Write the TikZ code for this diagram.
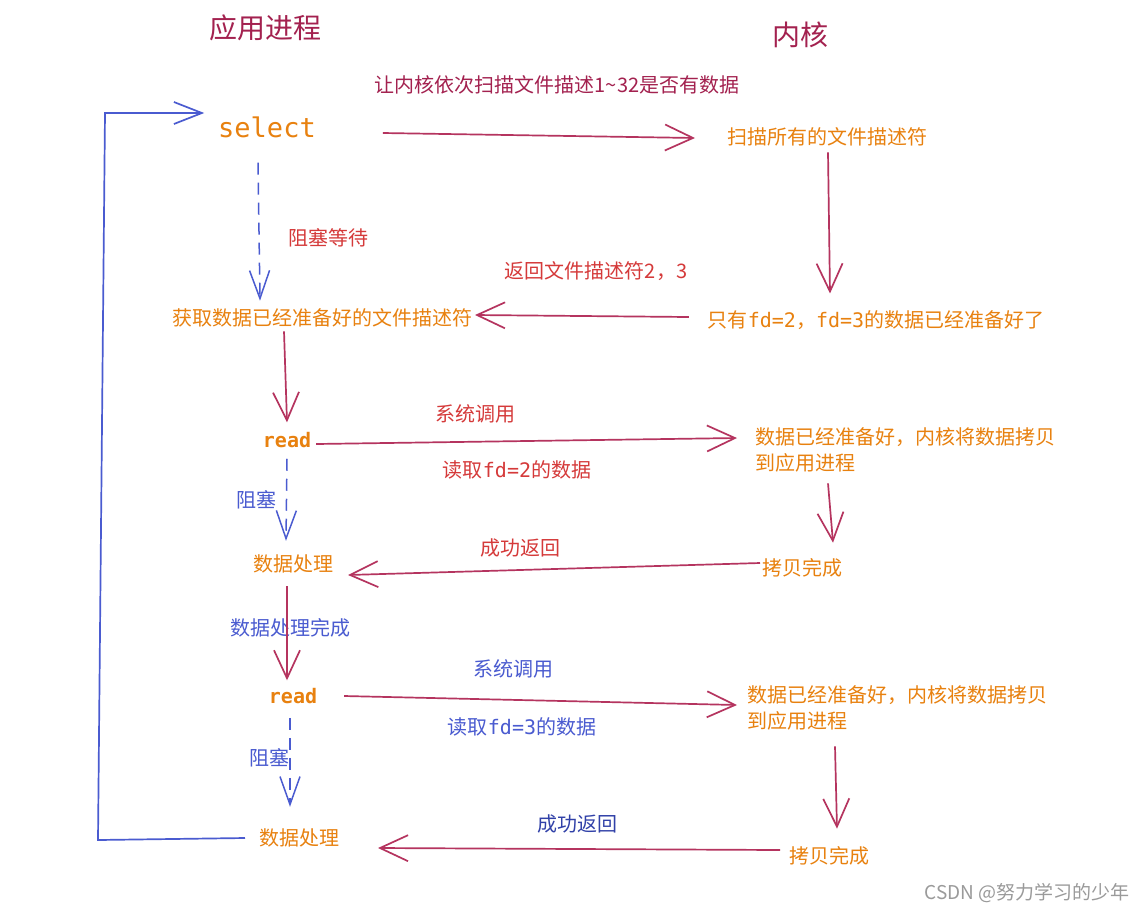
\documentclass[tikz,border=0pt]{standalone}
\usepackage{fontspec}
\setmainfont{Noto Sans CJK SC}
\setmonofont{DejaVu Sans Mono}
\usetikzlibrary{arrows.meta,calc}
\definecolor{titlec}{HTML}{A3214F}
\definecolor{arrc}{HTML}{B5345F}
\definecolor{orc}{HTML}{E8810F}
\definecolor{redc}{HTML}{D53A3A}
\definecolor{bluec}{HTML}{4A5BD0}
\definecolor{dbluec}{HTML}{3141A8}
\definecolor{grayc}{HTML}{9A9A9A}
\begin{document}
\begin{tikzpicture}[x=1pt,y=-1pt,
  every node/.style={inner sep=0pt,outer sep=0pt},
  title/.style={text=titlec,font=\fontsize{28}{32}\selectfont},
  box/.style={text=orc,font=\fontsize{20}{26}\selectfont},
  code/.style={text=orc,font=\ttfamily\bfseries\fontsize{20}{24}\selectfont},
  redlab/.style={text=redc,font=\fontsize{20}{24}\selectfont},
  bluelab/.style={text=bluec,font=\fontsize{20}{24}\selectfont},
  flow/.style={draw=arrc,line width=1.7pt,-{Straight Barb[length=28pt,width=26pt,line width=1.7pt]}},
  wait/.style={draw=bluec,line width=1.5pt,dash pattern=on 12pt off 8pt,-{Straight Barb[length=28pt,width=20pt,line width=1.5pt]}},
  loopc/.style={draw=bluec,line width=1.7pt,-{Straight Barb[length=28pt,width=22pt,line width=1.7pt]}}]
\useasboundingbox (0,0) rectangle (1148,914);
\fill[white] (0,0) rectangle (1148,914);

% titles
\node[title] (tapp) at (265,28) {应用进程};
\node[title] (tker) at (800,35) {内核};

% process nodes
\node[code,font=\ttfamily\fontsize{27}{30}\selectfont] (sel) at (267,127) {select};
\node[box] (scan) at (827,137) {扫描所有的文件描述符};
\node[box] (ready) at (876,320) {只有{\ttfamily fd=2}，{\ttfamily fd=3}的数据已经准备好了};
\node[box] (get) at (322,318) {获取数据已经准备好的文件描述符};
\node[code] (read1) at (287,440) {read};
\node[box,anchor=west,align=left] (copy1) at (755,450) {数据已经准备好，内核将数据拷贝\\到应用进程};
\node[box] (done1) at (802,568) {拷贝完成};
\node[box] (proc1) at (293,564) {数据处理};
\node[code] (read2) at (293,696) {read};
\node[box,anchor=west,align=left] (copy2) at (747,708) {数据已经准备好，内核将数据拷贝\\到应用进程};
\node[box] (done2) at (829,856) {拷贝完成};
\node[box] (proc2) at (299,838) {数据处理};

% labels
\node[text=titlec,font=\fontsize{20}{24}\selectfont] (lscan) at (557,85) {让内核依次扫描文件描述1\textasciitilde32是否有数据};
\node[redlab] (lwait) at (328,238) {阻塞等待};
\node[redlab] (lret) at (596,271) {返回文件描述符2，3};
\node[redlab] (lsys1) at (475,414) {系统调用};
\node[redlab] (lrd1) at (517,470) {读取{\ttfamily fd=2}的数据};
\node[redlab] (lok1) at (520,548) {成功返回};
\node[bluelab] (lblk1) at (256,500) {阻塞};
\node[bluelab] (ldone) at (290,628) {数据处理完成};
\node[bluelab] (lsys2) at (513,669) {系统调用};
\node[bluelab] (lrd2) at (522,727) {读取{\ttfamily fd=3}的数据};
\node[bluelab] (lblk2) at (269,758) {阻塞};
\node[text=dbluec,font=\fontsize{20}{24}\selectfont] (lok2) at (577,824) {成功返回};
\node[text=grayc,font=\fontsize{19}{22}\selectfont] (csdn) at (1027,893) {CSDN @努力学习的少年};

% connectors
\draw[flow] ($(sel.east)+(67,6)$) -- ($(scan.west)+(-32,1)$);
\draw[flow] ($(scan.south)+(1,6)$) -- ($(ready.north)+(-46,-17)$);
\draw[flow] ($(ready.west)+(-19,-3)$) -- ($(get.east)+(3,-3)$);
\draw[wait] ($(sel.south)+(-9,25)$) -- ($(get.north)+(-62,-8)$);
\draw[flow] ($(get.south)+(-38,4)$) -- ($(read1.north)+(0,-10)$);
\draw[flow] ($(read1.east)+(5,4)$) -- ($(copy1.west)+(-18,-12)$);
\draw[flow] ($(copy1.south west)+(73,11)$) -- ($(done1.north)+(31,-16)$);
\draw[flow] ($(done1.west)+(-2,-5)$) -- ($(proc1.east)+(15,11)$);
\draw[wait] ($(read1.south)+(0,11)$) -- ($(proc1.north)+(-7,-14)$);
\draw[flow] ($(proc1.south)+(-6,13)$) -- ($(read2.north)+(-6,-8)$);
\draw[flow] ($(read2.east)+(27,0)$) -- ($(copy2.west)+(-10,-3)$);
\draw[flow] ($(copy2.south west)+(88,16)$) -- ($(done2.north)+(8,-18)$);
\draw[flow] ($(done2.west)+(-9,-6)$) -- ($(proc2.east)+(39,10)$);
\draw[wait] ($(read2.south)+(-3,14)$) -- ($(proc2.north)+(-9,-22)$);
\draw[loopc] ($(proc2.west)+(-14,0)$) -- (98,840) -- (105,113) -- ($(sel.west)+(-14,-14)$);
\end{tikzpicture}
\end{document}
